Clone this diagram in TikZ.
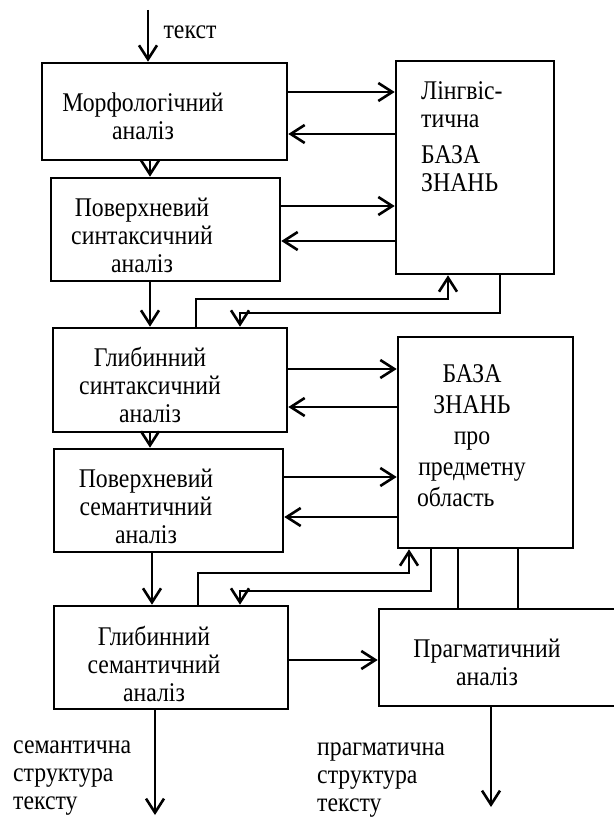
\documentclass[tikz,border=0pt]{standalone}
\usepackage{fontspec}
\setmainfont[FakeStretch=0.88]{Liberation Serif}
\usetikzlibrary{arrows.meta}

\begin{document}
\begin{tikzpicture}[
    x=1pt, y=-1pt,
    every node/.style={font=\fontsize{27}{28}\selectfont},
    box/.style={draw, line width=2.6pt, rectangle, inner sep=0pt},
    lbl/.style={align=center, inner sep=0pt},
    link/.style={line width=2.6pt},
    arr/.style={link, -{Straight Barb[length=14pt,width=18pt]}}
]
\useasboundingbox (0,0) rectangle (613,818);

% analysis blocks
\node[box, minimum width=245, minimum height=97] (morph) at (164.5,111.5) {};
\node[box, minimum width=229, minimum height=103] (synsurf) at (165.5,229.5) {};
\node[box, minimum width=234, minimum height=104] (syndeep) at (170,380) {};
\node[box, minimum width=229, minimum height=103] (semsurf) at (168.5,500.5) {};
\node[box, minimum width=234, minimum height=103] (semdeep) at (171,657.5) {};
\node[box, minimum width=246, minimum height=97] (prag) at (502,657.5) {};

% knowledge bases
\node[box, minimum width=158, minimum height=213] (lbz) at (475,167.5) {};
\node[box, minimum width=175, minimum height=211] (bzp) at (485.5,442.5) {};

% texts
\node[lbl] (inT) at (190,32) {текст};
\node[lbl] (morphT) at (143,116.5) {Морфологічний\\аналіз};
\node[lbl] (synsurfT) at (142,235) {Поверхневий\\синтаксичний\\аналіз};
\node[lbl] (syndeepT) at (150,385) {Глибинний\\синтаксичний\\аналіз};
\node[lbl] (semsurfT) at (146,506) {Поверхневий\\семантичний\\аналіз};
\node[lbl] (semdeepT) at (154,663.5) {Глибинний\\семантичний\\аналіз};
\node[lbl] (pragT) at (487,662.5) {Прагматичний\\аналіз};
\node[lbl, align=left, anchor=west] (lbzT) at (421,136.5) {Лінгвіс-\\тична\\[8pt]БАЗА\\ЗНАНЬ};
\node[lbl] (bzpT) at (472,436) {БАЗА\\[3pt]ЗНАНЬ\\[3pt]про\\[3pt]предметну\\[3pt]\makebox[110pt][l]{область}};
\node[lbl, align=left, anchor=west] (outST) at (13,778) {семантична\\структура\\тексту};
\node[lbl, align=left, anchor=west] (outPT) at (317,780) {прагматична\\структура\\тексту};

% free ends
\coordinate (in) at (148,10);
\coordinate (outS) at (155,815);
\coordinate (outP) at (491,807);

% main chain
\draw[arr] (in) -- (morph.north -| in);
\draw[arr] (morph.south -| 150,0) -- (synsurf.north -| 150,0);
\draw[arr] (synsurf.south -| 150,0) -- (syndeep.north -| 150,0);
\draw[arr] (syndeep.south -| 150,0) -- (semsurf.north -| 150,0);
\draw[arr] (semsurf.south -| 152,0) -- (semdeep.north -| 152,0);
\draw[arr] (semdeep.east |- 0,660) -- (prag.west |- 0,660);
\draw[arr] (semdeep.south -| outS) -- (outS);
\draw[arr] (prag.south -| outP) -- (outP);

% exchange with linguistic base
\draw[arr] (morph.east |- 0,92) -- (lbz.west |- 0,92);
\draw[arr] (lbz.west |- 0,134) -- (morph.east |- 0,134);
\draw[arr] (synsurf.east |- 0,206) -- (lbz.west |- 0,206);
\draw[arr] (lbz.west |- 0,241) -- (synsurf.east |- 0,241);
\draw[arr] (syndeep.north -| 196,0) |- (448,299) -- (lbz.south -| 448,0);
\draw[arr] (lbz.south -| 500,0) |- (240,313) -- (syndeep.north -| 240,0);

% exchange with domain base
\draw[arr] (syndeep.east |- 0,369) -- (bzp.west |- 0,369);
\draw[arr] (bzp.west |- 0,407) -- (syndeep.east |- 0,407);
\draw[arr] (semsurf.east |- 0,477) -- (bzp.west |- 0,477);
\draw[arr] (bzp.west |- 0,517) -- (semsurf.east |- 0,517);
\draw[arr] (semdeep.north -| 198,0) |- (409,573) -- (bzp.south -| 409,0);
\draw[arr] (bzp.south -| 431,0) |- (240,591) -- (semdeep.north -| 240,0);
\draw[link] (bzp.south -| 458,0) -- (prag.north -| 458,0);
\draw[link] (bzp.south -| 518,0) -- (prag.north -| 518,0);
\end{tikzpicture}
\end{document}
